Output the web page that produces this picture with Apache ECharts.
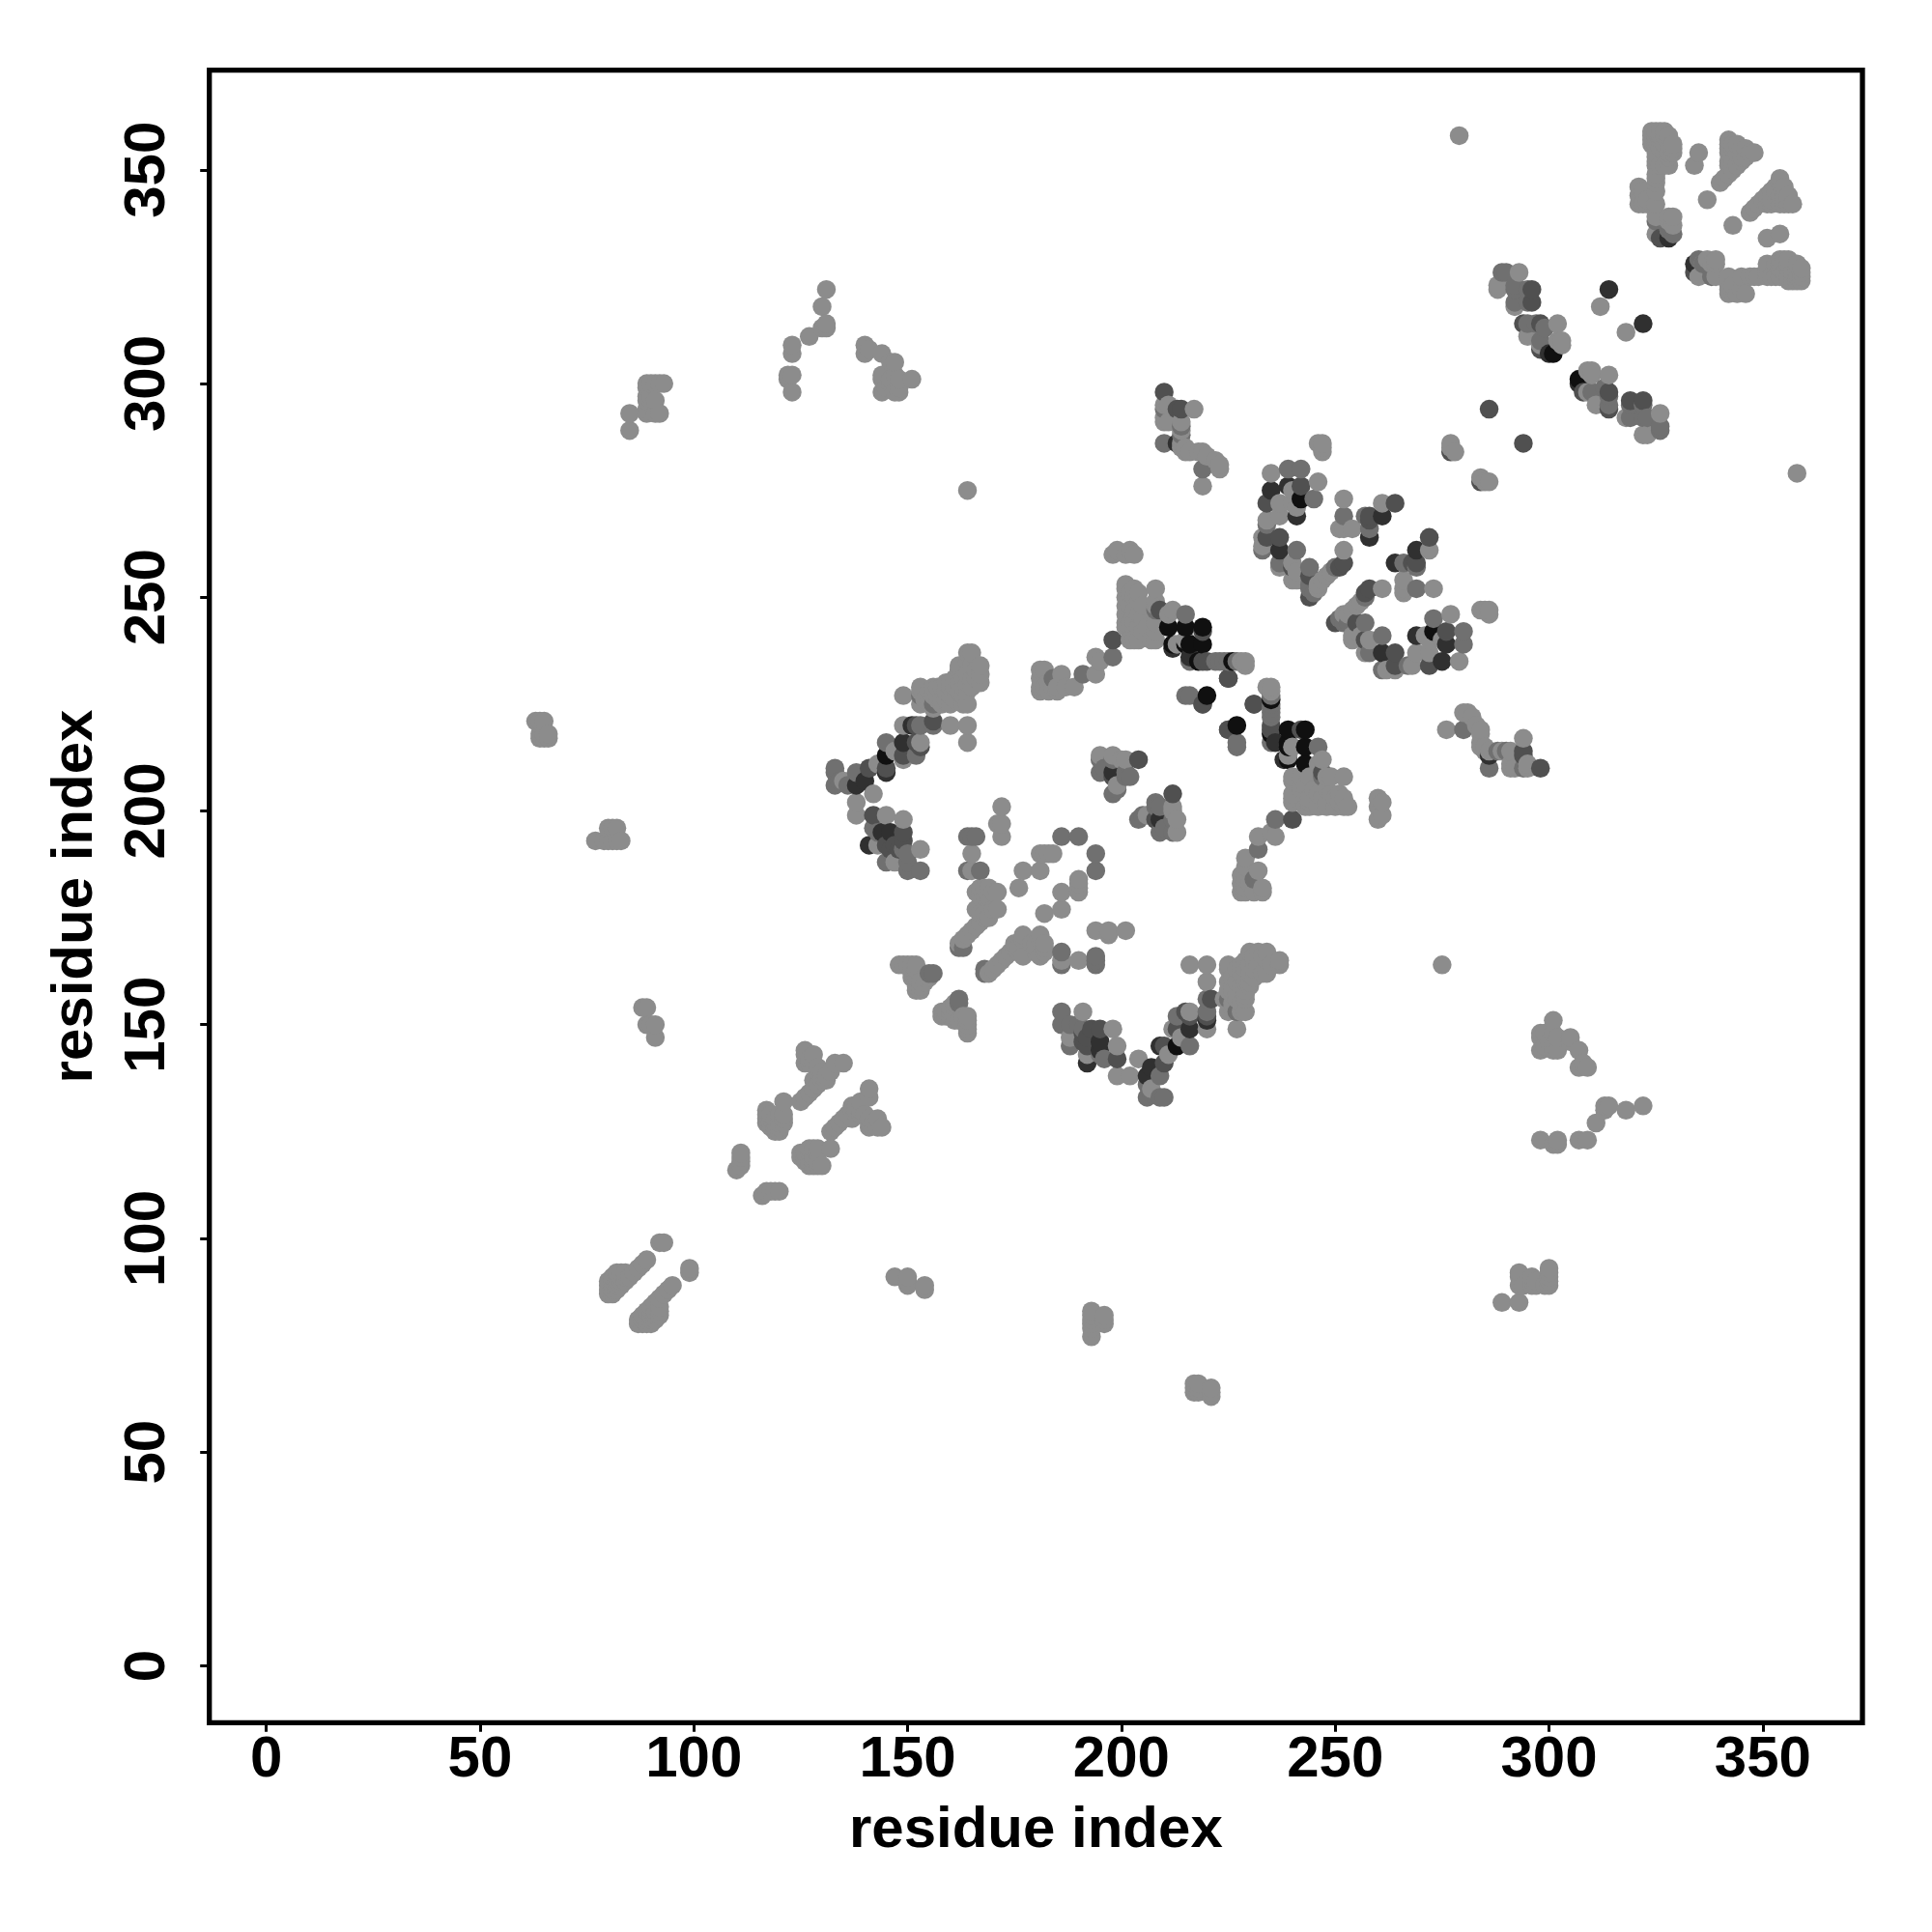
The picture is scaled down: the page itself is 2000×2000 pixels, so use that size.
<!DOCTYPE html>
<html><head><meta charset="utf-8">
<style>html,body{margin:0;background:#fff}#c{width:2000px;height:2000px}</style>
<script src="https://cdn.jsdelivr.net/npm/echarts@6/dist/echarts.min.js"></script>
</head><body><div id="c"></div>
<script>
const axisTicks=[0,50,100,150,200,250,300,350];
const axisTitle="residue index";
// residue contacts [i,j], i<j, grouped by strength
const contactsWeak=[
[80,87],[80,88],[80,89],[80,90],[81,87],[81,88],[81,89],[81,90],[81,91],[82,88],[82,89],[82,90],[82,91],[82,92],[83,89],[83,90],[83,91],[83,92],[84,90],[84,91],[84,92],[85,91],[86,92],[87,93],[88,94],[89,95],[92,99],[93,99],
[110,116],[111,117],[111,118],[111,119],[111,120],
[117,130],[117,129],[117,128],[117,127],[118,129],[118,128],[118,127],[118,126],[119,128],[119,127],[119,126],[119,125],[120,129],[120,127],[120,126],[120,125],[121,132],[121,129],[121,128],[121,127],
[125,132],[126,133],[127,134],[128,135],[129,136],[126,144],[126,143],[126,141],[127,142],[127,141],[128,143],[128,141],[129,140],[129,139],[130,139],[130,138],[130,137],[131,138],[131,137],[132,139],[133,141],[135,141],[128,137],
[63,221],[64,221],[65,221],[64,218],[65,217],[66,218],[64,217],[65,218],[66,217],
[77,193],[79,193],[80,196],[81,196],[82,196],[80,193],[81,193],[82,193],[83,193],
[85,289],[85,293],[89,293],[89,294],[89,296],[89,297],[90,296],[89,299],[89,300],[90,300],[91,293],[92,293],[91,300],[92,300],[93,300],[90,297],[91,296],
[88,154],[89,154],[89,150],[90,150],[91,150],[91,147],
[123,298],[122,302],[123,302],[122,301],[123,307],[123,309],[127,311],[130,313],[131,313],[131,314],[130,318],[131,322],[140,307],[140,309],[141,308],[144,307],[147,305],[146,305],[144,302],[144,298],[145,299],[146,301],[147,298],[148,298],[148,299],[148,301],[151,301],[147,302],[144,301],[146,300],
[164,275],[279,358],
[135,207],[142,204],[138,202],[138,199],[143,211],[147,214],[149,212],[149,220],[153,216],[160,220],[164,220],[164,216],[145,199],[149,198],[143,192],[153,191],[147,188],
[149,227],[153,229],[153,228],[153,225],[154,226],[155,228],[155,226],[156,229],[156,227],[156,224],[157,229],[157,227],[157,226],[158,229],[158,226],[158,225],[159,230],[159,228],[159,226],[160,230],[160,229],[160,227],[160,225],[161,231],[161,229],[161,226],[162,234],[162,233],[162,230],[162,228],[163,231],[163,229],[163,227],[163,225],[164,237],[164,235],[164,232],[164,230],[164,228],[164,225],[165,237],[165,234],[165,231],[165,229],[166,233],[166,231],[167,234],[167,232],[167,230],
[148,164],[149,164],[150,164],[151,164],[152,164],[152,163],[151,162],[151,161],[152,161],[152,160],[153,160],[153,159],[152,159],[152,158],[153,158],[155,161],[154,161],[154,160],
[162,169],[163,170],[164,171],[165,172],[166,173],[167,174],[168,175],[169,175],[168,176],[167,176],[166,177],[170,177],[171,177],[169,179],[169,180],[168,180],[167,180],[166,181],[167,182],[168,182],[169,182],[170,181],[171,181],[165,186],[165,190],[172,197],[171,197],[172,194],[172,201],
[176,182],[177,186],[181,186],[181,190],[182,190],[183,190],[184,190],
[181,233],[182,233],[181,231],[181,229],[181,228],[182,229],[183,228],[183,230],[184,229],[185,229],[185,228],[186,232],[187,229],[189,229],[194,232],[194,236],[195,235],
[195,213],[198,213],[200,212],[201,212],[199,206],
[201,253],[201,252],[201,250],[201,248],[201,246],[201,244],[201,243],[202,240],[202,244],[202,248],[202,251],[203,252],[203,250],[203,247],[203,244],[203,240],[204,251],[204,249],[204,246],[204,243],[204,240],[205,248],[205,245],[205,242],[206,243],[208,252],[208,249],[208,244],[208,242],[208,240],[211,246],[213,239],[228,235],[229,235],[229,234],[212,247],[215,240],[207,240],[208,248],[198,260],[199,261],[201,260],[203,260],[202,261],
[235,279],[246,277],[240,275],[241,271],[237,272],[240,272],[234,268],[237,269],[233,264],[233,262],[240,258],[241,256],[241,254],[240,254],[246,252],[246,253],[247,254],[248,255],[249,256],[252,261],[247,286],[247,284],[246,286],[247,285],[252,273],[251,266],[252,266],[254,266],[261,272],[237,257],
[210,295],[210,292],[210,291],[217,294],[214,285],[215,284],[216,284],[218,284],[219,284],[220,283],[222,282],[223,281],[223,280],[219,276],[214,286],[214,289],[214,291],[215,285],[211,291],[211,295],
[277,286],[278,284],[277,285],
[293,326],[288,322],[288,323],[292,318],[295,311],[302,314],[298,309],[302,310],[303,310],[303,309],[312,318],
[325,335],[325,339],[328,336],[329,337],[329,339],[328,339],[328,338],[325,345],[325,347],[325,348],[325,349],[321,342],[321,344],[321,346],[322,342],[322,345],[323,343],[323,342],[325,342],
[324,359],[325,359],[326,359],[327,359],[324,358],[325,358],[326,358],[327,358],[328,358],[324,357],[325,357],[326,357],[324,356],[325,356],[327,356],[328,356],[329,356],[326,355],[329,355],[325,354],[327,354],[328,354],[329,354],[325,353],[328,353],[325,352],[326,351],[327,351],[328,351],[325,351],
[335,354],[334,351],[337,343],
[340,347],[341,348],[342,349],[343,350],[344,351],[345,352],[346,353],[347,354],[348,354],[342,357],[342,356],[342,355],[342,354],[342,352],[342,351],[343,355],[343,356],[344,354],[344,356],[345,355],[346,355],[345,353],[343,352]
];
const contactsMid=[
[133,210],[133,209],[133,206],[134,207],[136,206],[138,209],[145,216],[152,213],[153,220],[156,220],[142,196],[143,195],[149,191],[150,190],[145,188],[150,188],[150,186],[153,186],[153,227],[156,225],
[156,162],[155,162],[163,168],[162,168],[164,186],[164,194],[165,194],[166,194],[167,186],[186,194],[190,194],
[184,231],[191,232],[198,236],
[195,212],[195,209],[196,210],[198,212],[198,204],[201,209],[202,208],[199,205],[201,208],
[208,247],[215,246],[216,235],[223,235],[227,235],[216,227],[215,227],[224,235],[222,235],[225,235],[219,225],
[239,280],[242,280],[245,273],[234,267],[233,261],[237,258],[241,261],[244,257],[244,253],[244,252],[245,251],[250,257],[252,269],[257,269],[258,266],
[210,294],[214,290],[210,286],[219,280],[214,288],
[289,326],[290,326],[292,322],[292,323],[292,319],[295,322],[295,319],[295,314],[297,314],[299,313],[298,310],
[329,335],[325,338],[328,336]
];
const contactsDark=[
[141,210],[145,210],[149,213],[152,220],[142,199],[149,195],[145,192],[147,192],[149,193],[146,191],[148,191],
[198,240],[204,212],[198,208],[153,215],[152,216],[156,221],
[209,247],[219,242],[219,235],[220,235],[225,231],[219,225],[225,231],
[242,276],[234,272],[234,264],[237,264],[240,257],[244,255],[244,250],[251,257],[252,258],[258,269],[264,272],[258,268],
[210,298],[213,294],[214,294],
[277,284],[286,294],[296,322],[296,319],[294,314],[298,314],[298,308],
[326,334]
];
const contactsStrong=[
[138,206],[140,207],[144,195],[146,195],[149,216],[151,220],[141,192],[145,209],
[216,236],[235,275],[239,276],[241,269],[237,261],[261,269],[258,264],
[213,286],[314,322],[300,307],[328,334],[198,209],[212,238]
];
const contactsDarkest=[
[145,213],[211,243],[212,239],[215,243],[216,239],[219,239],[218,235],[226,235],[220,227],[215,239],[219,243],[242,273],[301,307]
];

const gradeLevels=[0x8c,0x70,0x50,0x30,0x10];
const grades=[contactsWeak,contactsMid,contactsDark,contactsStrong,contactsDarkest];
const pts=[];
grades.forEach((list,g)=>list.forEach(([i,j])=>{pts.push([i,j,g]);pts.push([j,i,g]);}));
pts.sort((a,b)=>a[0]-b[0]||a[1]-b[1]);

const font='"Liberation Sans",Arial,sans-serif';
const axisBase={type:'value',min:-13.3,max:373.3,splitLine:{show:false},axisLine:{show:false,onZero:false},
  axisTick:{show:true,length:9.5,customValues:axisTicks,lineStyle:{color:'#000',width:3}},
  name:axisTitle,nameLocation:'center',
  nameTextStyle:{fontFamily:font,fontWeight:'bold',fontSize:60,color:'#000'}};
const chart=echarts.init(document.getElementById('c'),null,{renderer:'canvas'});
chart.setOption({animation:false,backgroundColor:'#fff',
 grid:{left:216.7,right:72,top:72.7,bottom:216.7,show:true,borderColor:'#000',borderWidth:5.3,backgroundColor:'transparent',z:10},
 xAxis:Object.assign({},axisBase,{nameGap:82,
  axisLabel:{customValues:axisTicks,margin:9,fontFamily:font,fontWeight:'bold',fontSize:60,color:'#000'}}),
 yAxis:Object.assign({},axisBase,{nameGap:108,
  axisLabel:{customValues:axisTicks,rotate:90,margin:33,fontFamily:font,fontWeight:'bold',fontSize:60,color:'#000'}}),
 series:[{type:'scatter',symbol:'circle',symbolSize:19.5,data:pts,clip:false,progressive:0,
  itemStyle:{opacity:1,color:p=>{const v=gradeLevels[p.value[2]];return `rgb(${v},${v},${v})`;}}}]
});
</script></body></html>
